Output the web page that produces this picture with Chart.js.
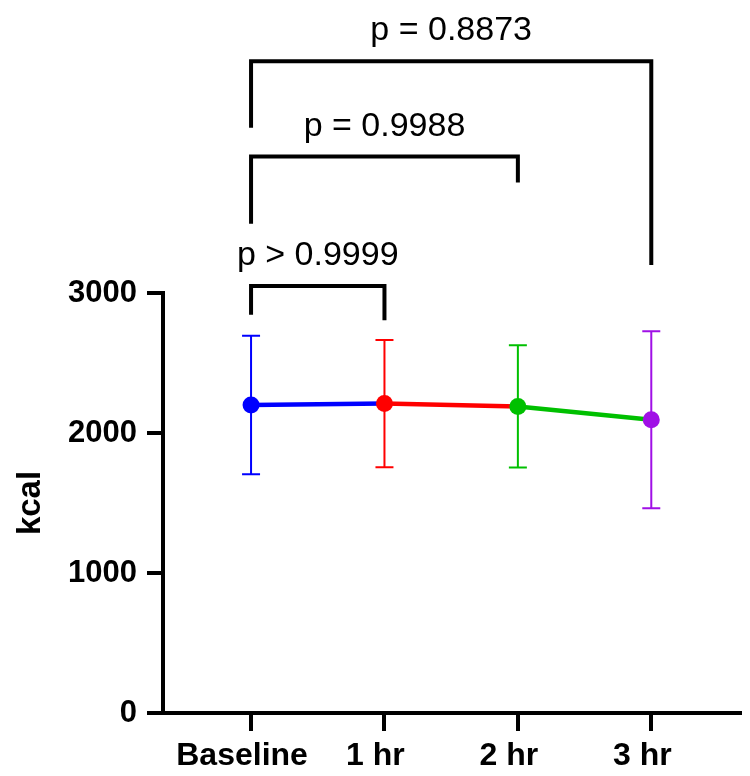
<!DOCTYPE html>
<html lang="en">
<head>
    <meta charset="UTF-8">
    <title>kcal over time</title>
    <script src="https://cdn.jsdelivr.net/npm/chart.js@4.4.1/dist/chart.umd.min.js"></script>
    <style>
        body { margin: 0; background: #fff; }
        #wrap { width: 750px; height: 776px; position: relative; }
    </style>
</head>
<body>
    <div id="wrap"><canvas id="kcalChart"></canvas></div>

    <script>
        // data
        const categories = ['Baseline', '1 hr', '2 hr', '3 hr'];
        const means = [2200, 2210, 2190, 2095];
        const sds = [495, 455, 437, 632];
        const colors = ['#0000ff', '#ff0000', '#00c000', '#a010e6'];

        // multiple comparisons vs Baseline
        const pairs = [[0, 1], [0, 2], [0, 3]];
        const pLabels = ['p > 0.9999', 'p = 0.9988', 'p = 0.8873'];
        const bracketTop = [3050, 3975, 4655];      // kcal
        const bracketLeftEnd = [2845, 3495, 4180];
        const bracketRightEnd = [2805, 3790, 3200];

        const FONT = '"Liberation Sans", Arial, Helvetica, sans-serif';

        // error bars (mean ± SD)
        const errorBars = {
            id: 'errorBars',
            beforeDatasetsDraw(chart) {
                const {ctx, scales: {x, y}} = chart;
                ctx.save();
                ctx.lineWidth = 2;
                means.forEach((m, i) => {
                    const px = x.getPixelForValue(i);
                    const top = y.getPixelForValue(m + sds[i]);
                    const bot = y.getPixelForValue(m - sds[i]);
                    ctx.strokeStyle = colors[i];
                    ctx.beginPath();
                    ctx.moveTo(px, top); ctx.lineTo(px, bot);
                    ctx.moveTo(px - 9, top); ctx.lineTo(px + 9, top);
                    ctx.moveTo(px - 9, bot); ctx.lineTo(px + 9, bot);
                    ctx.stroke();
                });
                ctx.restore();
            }
        };

        // significance brackets above the plot
        const brackets = {
            id: 'brackets',
            afterDraw(chart) {
                const {ctx, scales: {x, y}} = chart;
                ctx.save();
                ctx.lineWidth = 4;
                ctx.strokeStyle = '#000';
                ctx.fillStyle = '#000';
                ctx.font = '34px ' + FONT;
                ctx.textAlign = 'center';
                ctx.textBaseline = 'alphabetic';
                pairs.forEach(([a, b], i) => {
                    const xa = x.getPixelForValue(a);
                    const xb = x.getPixelForValue(b);
                    const yt = y.getPixelForValue(bracketTop[i]);
                    ctx.beginPath();
                    ctx.moveTo(xa, y.getPixelForValue(bracketLeftEnd[i]));
                    ctx.lineTo(xa, yt);
                    ctx.lineTo(xb, yt);
                    ctx.lineTo(xb, y.getPixelForValue(bracketRightEnd[i]));
                    ctx.stroke();
                    ctx.fillText(pLabels[i], (xa + xb) / 2, yt - 21);
                });
                ctx.restore();
            }
        };

        const ctx = document.getElementById('kcalChart').getContext('2d');
        new Chart(ctx, {
            type: 'line',
            data: {
                datasets: [{
                    data: means.map((m, i) => ({x: i, y: m})),
                    borderWidth: 4.5,
                    segment: { borderColor: c => colors[c.p0DataIndex] },
                    pointRadius: 8.5,
                    pointBorderWidth: 0,
                    pointBackgroundColor: colors,
                    pointBorderColor: colors,
                    tension: 0
                }]
            },
            options: {
                responsive: true,
                maintainAspectRatio: false,
                animation: false,
                layout: { padding: { top: 293, right: 10, bottom: 0, left: 0 } },
                plugins: { legend: { display: false }, tooltip: { enabled: false } },
                scales: {
                    x: {
                        type: 'linear',
                        min: -0.66,
                        max: 3.665,
                        afterBuildTicks: s => { s.ticks = categories.map((_, i) => ({value: i})); },
                        afterFit: s => { s.height = 63; },
                        ticks: {
                            callback: v => categories[v],
                            color: '#000',
                            padding: 6,
                            labelOffset: -9,
                            maxRotation: 0,
                            autoSkip: false,
                            font: { family: FONT, size: 32, weight: 'bold' }
                        },
                        grid: { drawOnChartArea: false, tickLength: 18, tickWidth: 4, tickColor: '#000', lineWidth: 4, color: '#000' },
                        border: { color: '#000', width: 4 }
                    },
                    y: {
                        min: 0,
                        max: 3000,
                        afterFit: s => { s.width = 163; },
                        ticks: {
                            stepSize: 1000,
                            callback: v => String(v),
                            color: '#000',
                            padding: 10,
                            font: { family: FONT, size: 31, weight: 'bold' }
                        },
                        title: {
                            display: true,
                            text: 'kcal',
                            color: '#000',
                            padding: { top: 11, bottom: 0 },
                            font: { family: FONT, size: 33, weight: 'bold' }
                        },
                        grid: { drawOnChartArea: false, tickLength: 16, tickWidth: 4, tickColor: '#000', lineWidth: 4, color: '#000' },
                        border: { color: '#000', width: 4 }
                    }
                }
            },
            plugins: [errorBars, brackets]
        });
    </script>
</body>
</html>
